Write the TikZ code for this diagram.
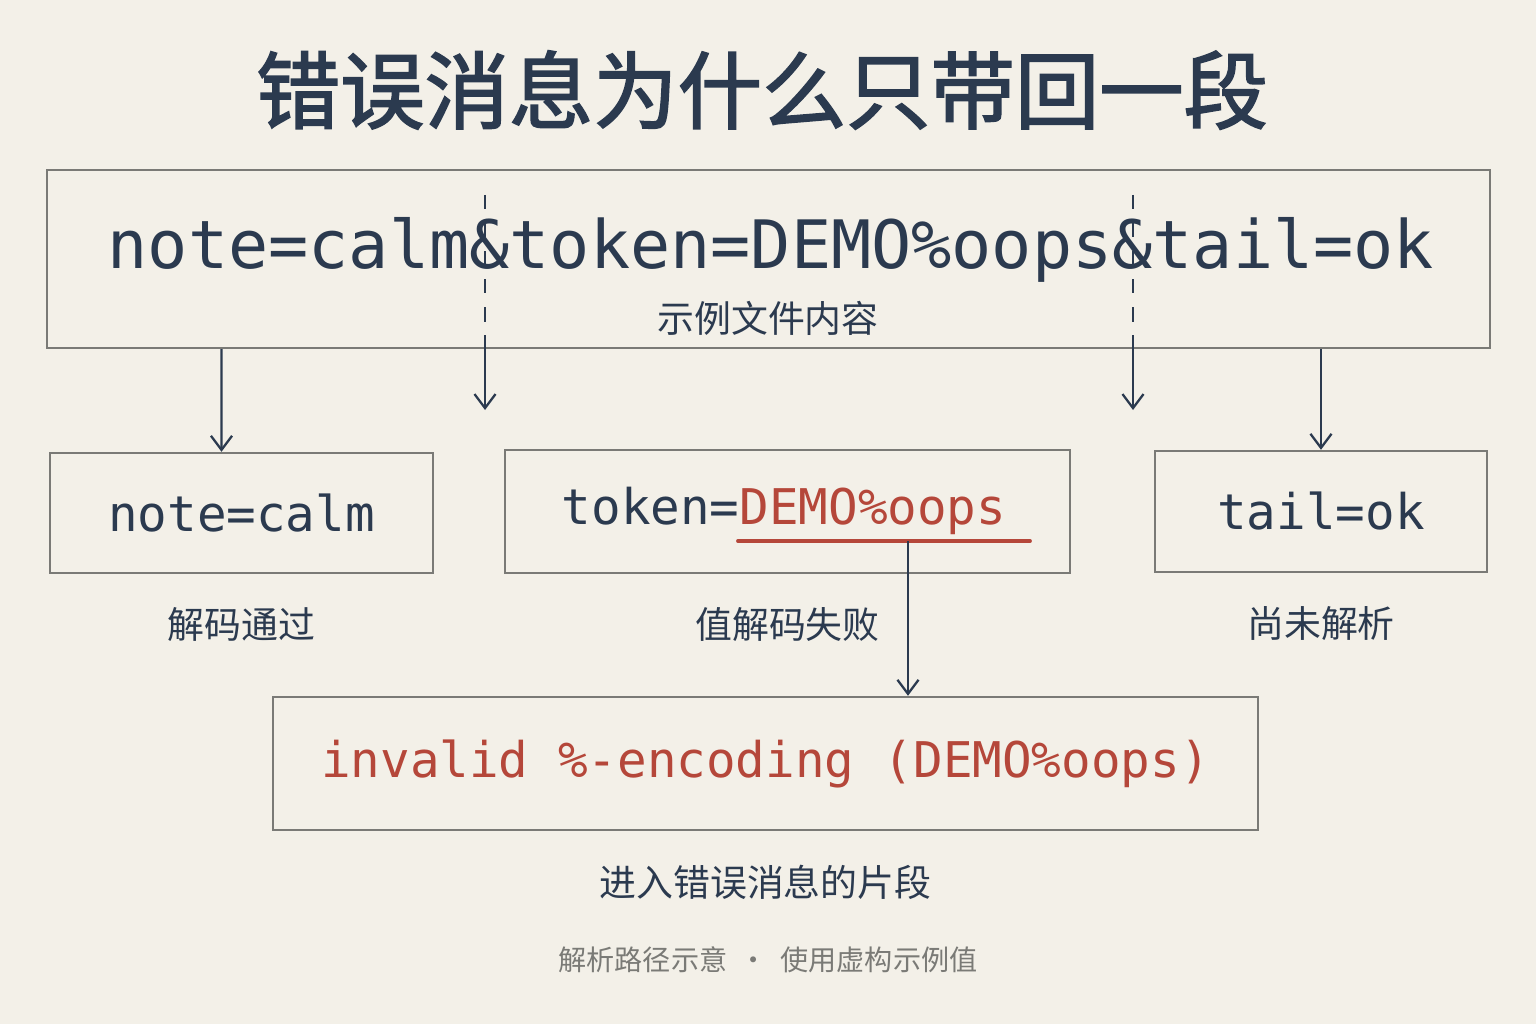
\documentclass[tikz,border=0pt]{standalone}
\usepackage{fontspec}
\setmonofont{DejaVu Sans Mono}
\newfontfamily\cjk{Noto Sans CJK SC}
\newfontfamily\cjkb{Noto Sans CJK SC}[FakeBold=2]
\usetikzlibrary{positioning,arrows.meta}
\definecolor{ink}{HTML}{2B3A4F}
\definecolor{errred}{HTML}{B5473A}
\definecolor{paper}{HTML}{F3F0E8}
\definecolor{frame}{HTML}{7A7A76}
\tikzset{
    box/.style = {draw=frame, line width=1.4pt, rectangle, inner sep=0pt},
    code/.style = {font=\ttfamily, text=ink},
    note/.style = {font=\cjk\fontsize{21}{24}\selectfont, text=ink},
    arrow/.style = {draw=ink, line width=1.3pt, -{Straight Barb[length=8pt,width=12pt]}}
}
\begin{document}
\begin{tikzpicture}[x=0.02cm, y=-0.02cm]
        \fill[paper] (0,0) rectangle (1536,1024);
        \node [font=\cjkb\fontsize{48}{52}\selectfont, text=ink] (title) at (762,90) {错误消息为什么只带回一段};
        % source line
        \node [box, minimum width=28.86cm, minimum height=3.56cm] (src) at (768.5,259) {};
        \node [code, font=\ttfamily\fontsize{38}{40}\selectfont] (line) at (771,250) {note=calm\&token=DEMO\%oops\&tail=ok};
        \node [note] (srclbl) at (768,318) {示例文件内容};
        % parts
        \node [box, minimum width=7.66cm, minimum height=2.4cm] (calm) at (241.5,513) {};
        \node [code, font=\ttfamily\fontsize{28}{30}\selectfont] at (calm) {note=calm};
        \node [box, minimum width=11.3cm, minimum height=2.46cm] (tok) at (787.5,511.5) {};
        \node [code, font=\ttfamily\fontsize{28}{30}\selectfont] at (784,511) {token=\textcolor{errred}{DEMO\%oops}};
        \node [box, minimum width=6.64cm, minimum height=2.42cm] (tail) at (1321,511.5) {};
        \node [code, font=\ttfamily\fontsize{28}{30}\selectfont] at (tail) {tail=ok};
        \node [note, below=0.55cm of calm] (calmlbl) {解码通过};
        \node [note, below=0.55cm of tok] (toklbl) {值解码失败};
        \node [note, below=0.55cm of tail] (taillbl) {尚未解析};
        % error
        \node [box, minimum width=19.7cm, minimum height=2.66cm] (err) at (765.5,763.5) {};
        \node [code, text=errred, font=\ttfamily\fontsize{28}{30}\selectfont] at (err) {invalid \%-encoding (DEMO\%oops)};
        \node [note, below=0.55cm of err] (errlbl) {进入错误消息的片段};
        \node [font=\cjk\fontsize{16}{18}\selectfont, text=frame] (foot) at (768,960) {解析路径示意 \ · \ 使用虚构示例值};
        % connectors
        \coordinate (cut1) at (485,195);
        \coordinate (cut1e) at (485,410);
        \coordinate (cut2) at (1133,195);
        \coordinate (cut2e) at (1133,410);
        \draw[ink, line width=1.3pt, dash pattern=on 8pt off 8pt] (cut1) -- (485,335);
        \draw[ink, line width=1.3pt, dash pattern=on 8pt off 8pt] (cut2) -- (1133,335);
        \draw[arrow] (485,335) -- (cut1e);
        \draw[arrow] (1133,335) -- (cut2e);
        \draw[arrow] (src.south -| calm.north) ++(-20,0) -- ([xshift=-0.4cm]calm.north);
        \draw[arrow] (src.south -| tail.north) -- (tail.north);
        \coordinate (ul) at (908,541);
        \draw[errred, line width=2.2pt, line cap=round] (738,541) -- (1030,541);
        \draw[arrow] (ul) -- (ul |- err.north);
\end{tikzpicture}
\end{document}
